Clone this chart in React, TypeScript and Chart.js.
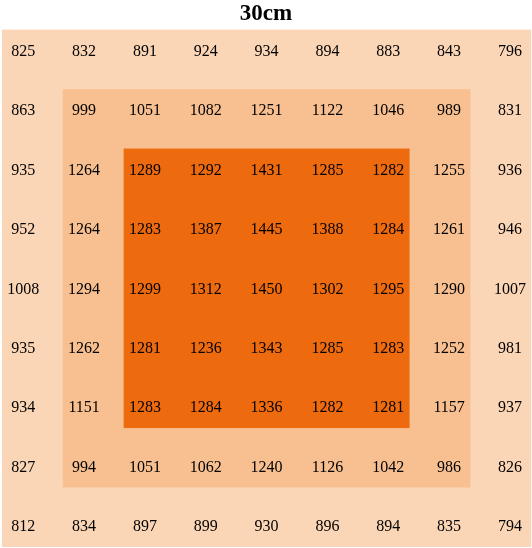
import React, { useEffect, useRef } from "react";
import { Chart, registerables, ChartConfiguration } from "chart.js";

Chart.register(...registerables);

// readings per row, top to bottom (9 x 9 grid)
const row0 = [825, 832, 891, 924, 934, 894, 883, 843, 796];
const row1 = [863, 999, 1051, 1082, 1251, 1122, 1046, 989, 831];
const row2 = [935, 1264, 1289, 1292, 1431, 1285, 1282, 1255, 936];
const row3 = [952, 1264, 1283, 1387, 1445, 1388, 1284, 1261, 946];
const row4 = [1008, 1294, 1299, 1312, 1450, 1302, 1295, 1290, 1007];
const row5 = [935, 1262, 1281, 1236, 1343, 1285, 1283, 1252, 981];
const row6 = [934, 1151, 1283, 1284, 1336, 1282, 1281, 1157, 937];
const row7 = [827, 994, 1051, 1062, 1240, 1126, 1042, 986, 826];
const row8 = [812, 834, 897, 899, 930, 896, 894, 835, 794];
const rows = [row0, row1, row2, row3, row4, row5, row6, row7, row8];

// ring index -> first cell covered (ring k covers cells k .. 8-k)
const rings = [0, 1, 2];
const ringColors = ["#FBD6B6", "#F8C091", "#EE6A0E"];
const title = "30cm";

const PAD = 0.35;

const zonePlugin = {
  id: "zones",
  beforeDatasetsDraw(chart: any) {
    const { ctx, scales } = chart;
    const xs = scales.x;
    const ys = scales.y;
    const n = rows.length - 1;
    rings.forEach((k, i) => {
      const x0 = xs.getPixelForValue(k - PAD);
      const x1 = xs.getPixelForValue(n - k + PAD);
      const y0 = ys.getPixelForValue(k - PAD);
      const y1 = ys.getPixelForValue(n - k + PAD);
      ctx.save();
      ctx.fillStyle = ringColors[i];
      ctx.fillRect(x0, y0, x1 - x0, y1 - y0);
      ctx.restore();
    });
  },
  afterDatasetsDraw(chart: any) {
    const { ctx } = chart;
    const meta = chart.getDatasetMeta(0);
    const data = chart.data.datasets[0].data as any[];
    ctx.save();
    ctx.fillStyle = "#000";
    ctx.font = '16px "Liberation Serif"';
    ctx.textAlign = "center";
    ctx.textBaseline = "middle";
    meta.data.forEach((pt: any, i: number) => {
      ctx.fillText(String(data[i].v), pt.x, pt.y + 1);
    });
    ctx.restore();
  },
};

const App: React.FC = () => {
  const canvasRef = useRef<HTMLCanvasElement | null>(null);

  useEffect(() => {
    document.body.style.margin = "0";
    const ctx = canvasRef.current?.getContext("2d");
    if (!ctx) return;

    const points: any[] = [];
    rows.forEach((r, yi) => {
      r.forEach((v, xi) => {
        points.push({ x: xi, y: yi, v });
      });
    });

    const chart = new Chart(ctx, {
      type: "scatter",
      data: {
        datasets: [
          {
            data: points,
            pointRadius: 0,
            pointHoverRadius: 0,
          },
        ],
      },
      options: {
        animation: false,
        responsive: false,
        events: [],
        layout: { padding: { left: 2, right: 2, bottom: 1, top: 0 } },
        scales: {
          x: { type: "linear", min: -PAD, max: 8 + PAD - 0.02, display: false },
          y: { type: "linear", min: -PAD, max: 8 + PAD, reverse: true, display: false },
        },
        plugins: {
          legend: { display: false },
          tooltip: { enabled: false },
          title: {
            display: true,
            text: title,
            color: "#000",
            font: { family: '"Liberation Serif"', size: 23, weight: "bold", lineHeight: 1.2 },
            padding: { top: 0, bottom: 2 },
          },
        },
      },
      plugins: [zonePlugin],
    } as ChartConfiguration);

    return () => {
      chart.destroy();
    };
  }, []);

  return (
    <div style={{ position: "absolute", left: 0, top: 0, width: 532, height: 548 }}>
      <canvas ref={canvasRef} width={532} height={548}></canvas>
    </div>
  );
};

export default App;
